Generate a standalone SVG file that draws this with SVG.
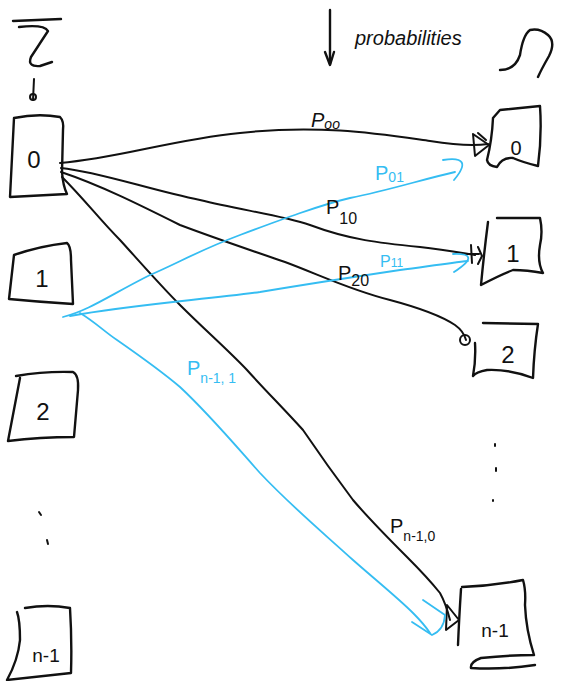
<svg xmlns="http://www.w3.org/2000/svg" width="571" height="681" viewBox="0 0 571 681">
<style>
.ink{fill:none;stroke:#111;stroke-width:2.4;stroke-linecap:round;stroke-linejoin:round}
.blue{fill:none;stroke:#35bdf2;stroke-width:1.8;stroke-linecap:round;stroke-linejoin:round}
.blk{fill:none;stroke:#111;stroke-width:2;stroke-linecap:round;stroke-linejoin:round}
.t{font-family:"Liberation Sans",Arial,sans-serif;fill:#111}
.tb{font-family:"Liberation Sans",Arial,sans-serif;fill:#35bdf2}
</style>
<rect width="571" height="681" fill="#fff"/>

<g id="sigma">
<path class="ink" d="M13,21 L61,19"/>
<path class="ink" d="M19,27 Q44,24 48,31 L31,57 Q27,67 40,66 L52,62"/>
<path class="blk" d="M34,79 L33,100"/>
<circle cx="33" cy="97" r="3" class="blk"/>
</g>

<g id="omega">
<path class="ink" d="M500,70 Q515,70 520,55 Q523,35 530,30 Q540,28 548,35 Q556,42 549,56 Q541,70 538,77"/>
</g>

<g id="probabilities">
<path class="ink" d="M330,10 L330,64"/>
<path class="ink" d="M325,52 L330,65 L334,52"/>
<text class="t" x="355" y="45" font-size="20" font-style="italic">probabilities</text>
</g>

<g id="left-0">
<path class="ink" d="M14,118 Q38,113 60,117 Q64,121 63,130 L62,172 Q63,186 67,194 L10,197 L14,118 Z"/>
<text class="t" x="34" y="168" font-size="24" text-anchor="middle">0</text>
</g>
<g id="left-1">
<path class="ink" d="M14,255 Q40,246 67,243 Q71,246 71,260 L73,304 Q40,302 9,299 L14,255 Z"/>
<text class="t" x="42" y="287" font-size="24" text-anchor="middle">1</text>
</g>
<g id="left-2">
<path class="ink" d="M16,376 Q45,371 73,372 Q79,375 78,390 L74,437 Q40,437 8,441 L20,378"/>
<text class="t" x="43" y="420" font-size="24" text-anchor="middle">2</text>
</g>
<g id="left-dots">
<path class="blk" d="M39,512 L41,515 M47,540 L48,544"/>
</g>
<g id="left-n1">
<path class="ink" d="M25,608 Q48,604 70,608 Q72,640 71,673 L7,680 Q18,660 20,640 Q20,620 17,612"/>
<text class="t" x="46" y="662" font-size="19" text-anchor="middle">n-1</text>
</g>

<g id="right-0">
<path class="ink" d="M500,110 L540,106 Q542,136 538,166 Q522,162 513,158 Q502,157 497,167 Q488,166 487,160 Q492,140 493,118 Z"/>
<text class="t" x="516" y="155" font-size="20" text-anchor="middle">0</text>
</g>
<g id="right-1">
<path class="ink" d="M497,218 L540,218 Q543,232 540,245 Q537,262 543,273 Q527,270 513,270 Q500,275 481,285 Q484,253 488,222"/>
<text class="t" x="513" y="262" font-size="24" text-anchor="middle">1</text>
</g>
<g id="right-2">
<path class="ink" d="M483,323 L538,324 Q534,350 533,378 Q510,369 487,370 Q476,372 473,376 Q476,360 475,343"/>
<text class="t" x="508" y="363" font-size="24" text-anchor="middle">2</text>
</g>
<g id="right-dots">
<path class="blk" d="M495,444 L495,446 M496,468 L496,471 M493,500 L493,501"/>
</g>
<g id="right-n1">
<path class="ink" d="M462,587 Q492,586 523,580 Q526,590 525,605 Q526,630 534,655 Q510,655 481,658 Q470,662 471,668 Q502,670 535,665"/>
<path class="ink" d="M461,589 Q459,620 458,645"/>
<text class="t" x="495" y="637" font-size="19" text-anchor="middle">n-1</text>
</g>

<g id="connectors">
<!-- black -->
<path class="blk" d="M60,163 C120,158 170,140 240,133 C320,124 380,134 430,141 C455,145 475,146 488,144"/>
<path class="blk" d="M473,134 L489,145 L475,156 Z M478,133 L486,140"/>
<path class="blk" d="M61,168 C100,172 150,190 200,200 C240,210 280,215 310,225 C350,240 380,243 420,247 C445,250 462,253 475,255"/>
<path class="blk" d="M471,245 L472,263 M465,254 L479,254 M478,247 L482,256 L478,264"/>
<path class="blk" d="M61,172 C100,185 140,205 180,225 C220,240 250,250 285,262 C320,275 350,290 390,300 C420,308 440,315 455,325 C462,330 465,336 466,340"/>
<circle cx="465" cy="340" r="5" class="blk"/>
<path class="blk" d="M62,177 C85,200 100,220 120,240 C140,262 160,285 180,305 C205,330 228,350 247,370 C265,390 285,410 303,430 C320,455 338,480 353,500 C370,520 390,540 407,557 C422,572 432,583 440,593 C445,602 448,612 450,620"/>
<path class="blk" d="M447,605 L459,620 L446,630 Z"/>
<!-- blue -->
<path class="blue" d="M63,317 C90,310 110,295 150,275 C180,262 200,250 240,235 C280,220 320,205 350,198 C390,190 420,180 455,172"/>
<path class="blue" d="M443,160 Q475,155 454,180"/>
<path class="blue" d="M70,316 C130,305 200,300 260,292 C320,282 360,276 400,270 C430,266 450,263 468,261"/>
<path class="blue" d="M453,254 Q483,253 454,272"/>
<path class="blue" d="M80,313 C95,322 105,332 117,340 C140,356 160,370 180,387 C210,415 235,445 260,473 C290,505 320,530 353,560 C378,582 398,598 413,613 C420,620 426,627 430,633"/>
<path class="blue" d="M423,600 L445,615 Q444,630 432,635 L412,622"/>
</g>

<g id="labels">
<text class="t" x="311" y="127" font-size="20" font-style="italic">P<tspan font-size="14" dy="2">oo</tspan></text>
<text class="tb" x="375" y="180" font-size="20">P<tspan font-size="14" dy="2">01</tspan></text>
<text class="t" x="326" y="214" font-size="20">P<tspan font-size="16" dy="10">10</tspan></text>
<text class="tb" x="380" y="267" font-size="16">P<tspan font-size="12" dy="0">11</tspan></text>
<text class="t" x="338" y="280" font-size="20">P<tspan font-size="16" dy="6">20</tspan></text>
<text class="tb" x="187" y="375" font-size="20">P<tspan font-size="14" dy="8">n-1, 1</tspan></text>
<text class="t" x="390" y="533" font-size="20">P<tspan font-size="14" dy="8">n-1,0</tspan></text>
</g>
</svg>
